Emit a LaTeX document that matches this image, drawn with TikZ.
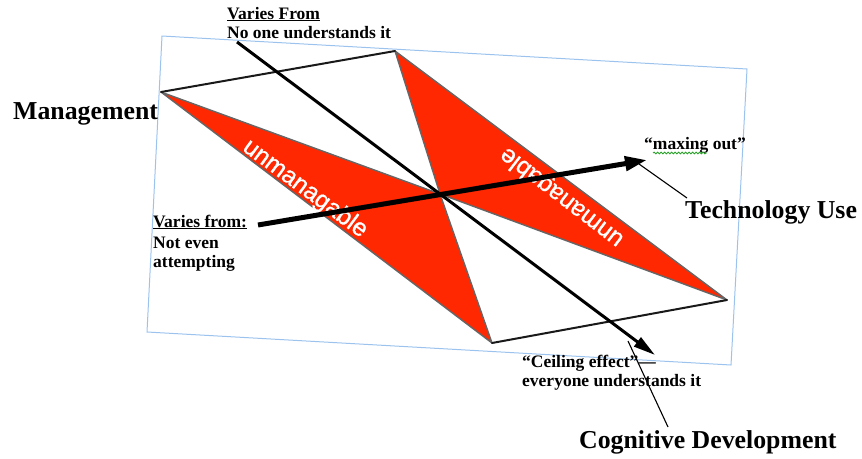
\documentclass[tikz,border=0pt]{standalone}
\usepackage{fontspec}
\setmainfont{Liberation Serif}
\newfontfamily\sansf[FakeBold=0.9]{Liberation Sans}
\usetikzlibrary{arrows.meta,decorations.pathmorphing}
\definecolor{redfill}{RGB}{255,40,0}
\definecolor{framebl}{RGB}{155,195,238}
\definecolor{squig}{RGB}{40,160,40}
\begin{document}
\begin{tikzpicture}[x=1pt,y=-1pt,
  lbl/.style={inner sep=0pt,anchor=base west,font=\fontsize{17.5}{20}\selectfont\bfseries},
  biglbl/.style={inner sep=0pt,anchor=base west,font=\fontsize{25.8}{28}\selectfont\bfseries},
  wtext/.style={inner sep=0pt,text=white,font=\sansf\fontsize{24.5}{27}\selectfont},
  redtri/.style={fill=redfill,draw=black!60,line width=1.4pt,line join=round},
  pedge/.style={draw=black!90,line width=2pt,line cap=round},
  axisline/.style={line width=3pt,-{Triangle[length=22pt,width=11pt]}},
  axisthick/.style={line width=5pt,-{Triangle[length=22pt,width=14pt]}},
  pointer/.style={line width=1.1pt},
  frame/.style={draw=framebl,line width=1pt}]
\useasboundingbox (0,0) rectangle (862,458);
% frame
\coordinate (f1) at (162,36);
\coordinate (f2) at (747,69);
\coordinate (f3) at (731,365);
\coordinate (f4) at (147,332);
\draw[frame] (f1) -- (f2) -- (f3) -- (f4) -- cycle;
% parallelogram vertices
\coordinate (L) at (161,92);
\coordinate (T) at (395,51);
\coordinate (R) at (727,300);
\coordinate (B) at (492,343);
\coordinate (C) at (440,194);
\draw[redtri] (L) -- (C) -- (B) -- cycle;
\draw[redtri] (T) -- (C) -- (R) -- cycle;
\draw[pedge] (L) -- (T);
\draw[pedge] (B) -- (R);
% white texts
\node[wtext,rotate=-36.5] (u1) at (305,189) {unmanagable};
\node[wtext,rotate=142.5] (u2) at (562,197) {unmanagable};
% axes
\coordinate (d0) at (237,42);
\coordinate (d1) at (655,355);
\draw[axisline] (d0) -- (d1);
\coordinate (t0) at (258,225);
\coordinate (t1) at (647,160);
\draw[axisthick] (t0) -- (t1);
% labels
\node[lbl] (vf1) at (227,19) {\underline{Varies From}};
\node[lbl] (vf2) at (227,38) {No one understands it};
\node[biglbl] (mgmt) at (13,119) {Management};
\node[lbl] (vl1) at (153,227) {\underline{Varies from:}};
\node[lbl] (vl2) at (153,248) {Not even};
\node[lbl] (vl3) at (153,267) {attempting};
\node[lbl] (max) at (644,149) {“maxing out”};
\draw[squig,line width=0.8pt,decorate,decoration={snake,amplitude=0.9pt,segment length=3.5pt}] (653,153) -- (707,153);
\node[biglbl] (tech) at (685,218) {Technology Use};
\node[lbl] (ce1) at (522,367) {“Ceiling effect”—};
\node[lbl] (ce2) at (522,386) {everyone understands it};
\node[biglbl] (cog) at (579,448) {Cognitive Development};
% pointers
\coordinate (tp0) at (687,198);
\coordinate (tp1) at (639,164);
\draw[pointer] (tp0) -- (tp1);
\coordinate (cp0) at (668,427);
\coordinate (cp1) at (628,341);
\draw[pointer] (cp0) -- (cp1);
\end{tikzpicture}
\end{document}
